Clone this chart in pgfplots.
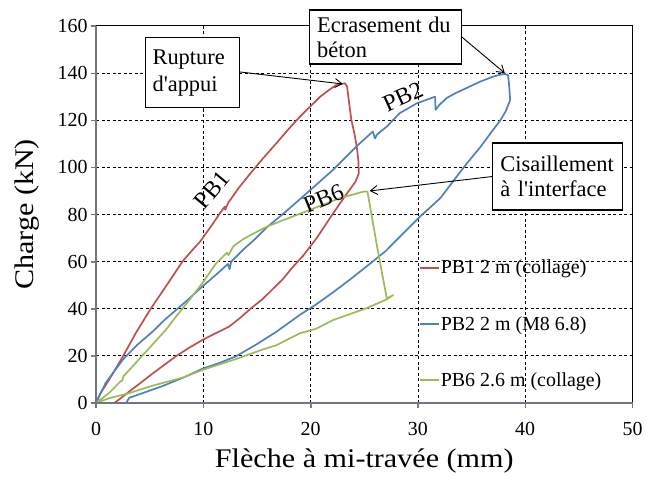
\documentclass[border=0pt]{standalone}
\usepackage{pgfplots}
\pgfplotsset{compat=1.18}
\usepackage{fontspec}
\setmainfont{Liberation Serif}
\newfontfamily\wideserif[FakeStretch=1.12]{Liberation Serif}
\usetikzlibrary{arrows.meta}
\definecolor{cR}{RGB}{192,80,77}
\definecolor{cB}{RGB}{79,129,189}
\definecolor{cG}{RGB}{155,187,89}
\definecolor{tgray}{rgb}{0.45,0.46,0.50}
\begin{document}
\begin{tikzpicture}
\begin{axis}[
  scale only axis, width=536.5bp, height=377bp,
  xmin=0, xmax=50, ymin=0, ymax=160,
  xtick={0,10,...,50}, ytick={0,20,...,160},
  clip=false,
  axis line style={black, line width=1bp},
  tick align=outside, tick pos=left,
  major tick length=5bp,
  ticklabel style={font=\fontsize{20}{24}\selectfont},
  xticklabel style={yshift=-11bp},
  /pgf/number format/assume math mode=true,
  xlabel={Flèche à mi-travée (mm)}, ylabel={Charge (kN)},
  every axis x label/.style={at={(rel axis cs:0.5,0)}, anchor=base, yshift=-64bp, font=\wideserif\fontsize{27}{32}\selectfont},
  every axis y label/.style={at={(rel axis cs:0,0.5)}, xshift=-62bp, rotate=90, anchor=base, font=\wideserif\fontsize{27}{32}\selectfont},
  legend style={draw=none, fill=none, at={(rel axis cs:0.602,0.2095)}, anchor=west,
    font=\fontsize{20}{24}\selectfont, row sep=39bp, inner sep=0pt, nodes={inner sep=1bp}},
  legend cell align=left,
  legend image code/.code={\draw[#1, line width=1.7bp] (0bp,0bp) -- (19bp,0bp);},
  every axis plot/.append style={line width=1.7bp, line join=round},
]
% grid lines
\pgfplotsinvokeforeach{20,40,...,140}{\draw[black, dash pattern=on 3bp off 2.5bp, line width=0.8bp] (axis cs:0,#1) -- (axis cs:50,#1);}
\pgfplotsinvokeforeach{10,20,30,40}{\draw[black, dash pattern=on 3bp off 2.5bp, line width=0.8bp] (axis cs:#1,0) -- (axis cs:#1,160);}
% ticks
\pgfplotsinvokeforeach{0,10,20,30,40,50}{\draw[tgray, line width=1.1bp] (axis cs:#1,0) -- (axis cs:#1,-2.1);}
\pgfplotsinvokeforeach{0,20,40,60,80,100,120,140,160}{\draw[tgray, line width=1.1bp] (axis cs:0,#1) -- (axis cs:-0.47,#1);}
\addplot[cR] coordinates {
(0,0)(0.4,4)(1.2,9.7)(2.5,19.7)(3.7,29.6)(5.1,40)(6.5,49.4)(8.1,60.3)(9.0,65)(9.7,68.5)(10.8,75.5)(11.7,81.5)(12.0,83.3)(12.05,82.0)(12.3,84.8)(13.3,91.3)(14.4,97.5)(15.6,104)(16.8,110.2)(17.9,116)(19.0,121.5)(20.0,126)(20.9,130)(21.7,132.8)(22.4,135)(23.2,135.7)(23.4,134.3)(23.6,127)(23.8,120.1)(24.1,114)(24.3,108.8)(24.45,103)(24.5,97.5)(24.2,94)(23.4,89.0)(22.1,80.5)(20.6,70.2)(19.3,62.5)(18.3,57.5)(17.4,52.5)(16.5,48.5)(15.5,44)(14.4,40)(13.4,36)(12.4,32.4)(11.1,29.5)(9.9,26.7)(8.7,23.5)(7.5,20)(6.4,16.3)(5.3,12.6)(4.2,8.7)(3.1,4.9)(2.3,2)(1.7,0)
};
\addlegendentry{PB1 2 m (collage)}
\addplot[cB] coordinates {
(0,0)(0.9,8.5)(2.5,18.4)(3.8,24.5)(5.3,30.4)(6.4,35.3)(7.6,40)(8.8,44.8)(9.9,49.4)(11.2,54.5)(12.3,59.0)(12.45,56.8)(12.6,60.0)(13.7,65)(14.8,69.5)(15.9,74.5)(17.5,80.5)(19.0,86.5)(20.5,92.5)(22.1,99)(24.3,109)(25.8,115.2)(26.0,112.3)(26.2,114)(27.1,117.3)(28.3,123)(29.9,127.2)(31.0,129)(31.6,130)(31.65,124.4)(32.0,126.5)(32.7,129.5)(33.5,131.5)(34.5,133.6)(35.8,136.4)(37.0,138.5)(38.0,139.7)(38.4,139.2)(38.5,135)(38.6,128.6)(38.2,124)(37.7,120.1)(37.0,115.9)(35.8,108.5)(34.6,101.9)(33.6,96)(32.1,87)(30.2,79.1)(28.3,70.5)(27.0,64.5)(25.2,57.9)(23.7,52.5)(22.1,47)(20.5,41.8)(19.0,37.4)(16.8,30.2)(15,25)(13.0,19.7)(11.5,17)(9.9,14.5)(8.1,10.7)(6.2,7.2)(4.6,4.6)(3.1,2.2)(2.8,0)
};
\addlegendentry{PB2 2 m (M8 6.8)}
\addplot[cG] coordinates {
(0,0)(1.2,4.2)(2.3,9.2)(2.45,9.5)(2.55,11.3)(3.4,15.5)(4.3,20)(5.4,25.5)(6.5,31)(7.6,37.5)(8.7,43.7)(9.9,50.8)(11.2,59.3)(12.2,63.8)(12.35,62.8)(12.8,66.5)(13.7,69.5)(14.7,72)(16.0,75)(17.5,77.7)(19.9,81.9)(22.7,86.9)(25.0,89.8)(25.3,89.7)(26.2,66.3)(27.1,44.4)(27.7,45.8)(27.1,44.0)(26.2,42.2)(25.2,40.2)(22.1,35.2)(20.5,31.5)(19.0,29.6)(16.8,24.5)(15.6,22.8)(13.0,18.6)(9.9,14.0)(8.1,10.8)(6.2,8.5)(5.0,7)(3.1,4.2)(1.2,2)(0,0)
};
\addlegendentry{PB6 2.6 m (collage)}
% gray left and bottom axis lines
\draw[tgray, line width=1.1bp] (axis cs:0,160) -- (axis cs:0,0) -- (axis cs:50,0);
\coordinate (ll) at (rel axis cs:0,0);
\coordinate (ur) at (rel axis cs:1,1);
% curve labels
\node[rotate=50, font=\fontsize{24}{28}\selectfont] at (axis cs:10.8,90.4) {PB1};
\node[rotate=24, font=\fontsize{24}{28}\selectfont] at (axis cs:28.6,130) {PB2};
\node[rotate=22, font=\fontsize{24}{28}\selectfont] at (axis cs:21.2,86.9) {PB6};
% annotations
\draw[-{Straight Barb[length=7bp,width=9bp]}, line width=0.9bp] (axis cs:13.4,140.5) -- (axis cs:23.0,135.4);
\draw[-{Straight Barb[length=7bp,width=9bp]}, line width=0.9bp] (axis cs:34.1,155.3) -- (axis cs:38.1,140);
\draw[-{Straight Barb[length=7bp,width=9bp]}, line width=0.9bp] (axis cs:36.9,96.1) -- (axis cs:25.5,90.0);
\node[draw, fill=white, line width=1.2bp, align=left, text width=80bp, inner xsep=7bp, minimum height=70bp,
  font=\fontsize{22.5}{27}\selectfont] at (axis cs:9.0,140.1) {Rupture\\d\textquotesingle appui};
\node[draw, fill=white, line width=1.2bp, align=left, text width=137bp, inner xsep=7.5bp, minimum height=54bp, inner ysep=1bp,
  font=\fontsize{22.5}{25}\selectfont] at (axis cs:27.0,155.3) {Ecrasement\hspace{6.5bp}du\\béton};
\node[draw, fill=white, line width=1.2bp, align=left, text width=114bp, inner xsep=8bp, minimum height=67bp,
  font=\fontsize{22.5}{25}\selectfont] at (axis cs:43.0,96.1) {Cisaillement\\à l\textquotesingle interface};
\end{axis}
\pgfresetboundingbox
\path ([shift={(-96bp,-74bp)}]ll) rectangle ([shift={(13.5bp,26bp)}]ur);
\end{tikzpicture}
\end{document}
